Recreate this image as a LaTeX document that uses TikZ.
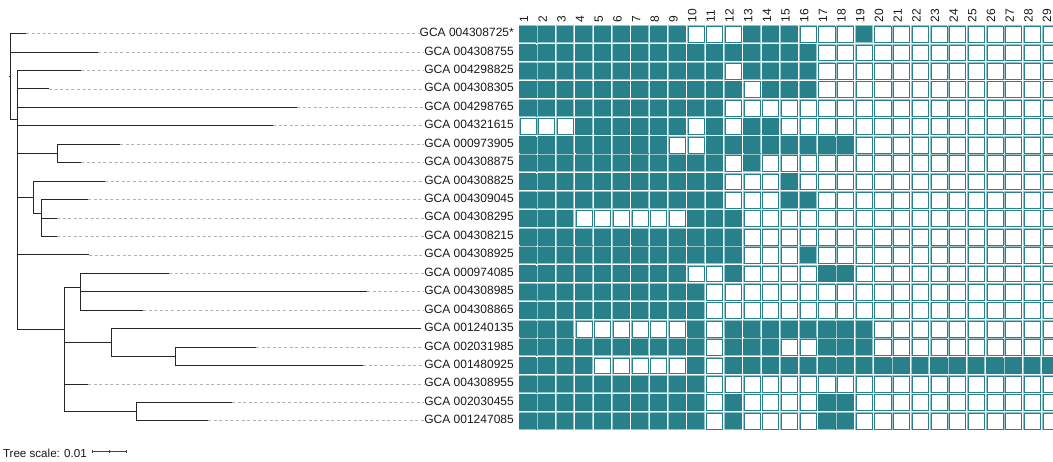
\documentclass[tikz,border=0pt]{standalone}
\usepackage{fontspec}
\setmainfont{Liberation Sans}
\definecolor{tealc}{RGB}{40,129,138}
\definecolor{teall}{RGB}{150,196,201}
\begin{document}
\begin{tikzpicture}[x=1pt,y=-1pt,
  branch/.style={line width=0.9pt, draw=black!85},
  leader/.style={draw=black!30, dash pattern=on 3pt off 2.6pt, line width=0.7pt},
  lab/.style={anchor=base east, inner sep=0pt, font=\fontsize{12}{14}\selectfont, text=black!90},
  num/.style={anchor=west, rotate=90, inner sep=0pt, font=\fontsize{12}{14}\selectfont, text=black!90},
  scl/.style={anchor=base west, inner sep=0pt, font=\fontsize{11.6}{14}\selectfont, text=black!90},
  sbar/.style={line width=0.8pt, draw=black!75}]
\clip (0,0) rectangle (1053,462);
\fill[white] (0,0) rectangle (1053,462);

% ---------- grid ----------
\foreach \r in {1,...,22}{
  \foreach \c in {1,...,29}{
    \pgfmathsetmacro\xa{518.3+(\c-1)*18.68}
    \pgfmathsetmacro\ya{25+(\r-1)*18.41}
    \fill[teall] (\xa+0.5,\ya+0.5) rectangle (\xa+18.18,\ya+17.91);
    \fill[white] (\xa+1.8,\ya+1.8) rectangle (\xa+17.5,\ya+17.2);
    \draw[tealc, line width=0.7pt] (\xa+1.6,\ya+1.6) rectangle (\xa+17.7,\ya+17.4);
  }
}
\foreach \r/\cols in {
  1/{1,...,9,13,14,15,19},
  2/{1,...,16},
  3/{1,...,11,13,14,15,16},
  4/{1,...,12,14,15,16},
  5/{1,...,11},
  6/{4,...,9,11,13,14},
  7/{1,...,8,11,12,...,18},
  8/{1,...,11,13},
  9/{1,...,11,15},
  10/{1,...,11,15,16},
  11/{1,2,3,10,11,12},
  12/{1,...,12},
  13/{1,...,12,16},
  14/{1,...,9,12,17,18},
  15/{1,...,10},
  16/{1,...,10},
  17/{1,2,3,10,12,13,...,19},
  18/{1,...,10,12,13,14,17,18,19},
  19/{1,2,3,4,10,12,13,...,29},
  20/{1,...,10},
  21/{1,...,10,12,17,18},
  22/{1,...,10,12,17,18}}{
  \foreach \c in \cols{
    \pgfmathsetmacro\xa{518.3+(\c-1)*18.68}
    \pgfmathsetmacro\ya{25+(\r-1)*18.41}
    \fill[teall] (\xa+0.5,\ya+0.5) rectangle (\xa+18.18,\ya+17.91);
    \fill[tealc] (\xa+1,\ya+1) rectangle (\xa+17.8,\ya+17.5);
  }
}

% ---------- column numbers ----------
\foreach \c in {1,...,29}{
  \node[num] (h\c) at ({518.3+(\c-0.5)*18.68-3.6},22.6) {\c};
}

% ---------- leaves and labels ----------
\foreach \i/\tx/\nm in {
  1/26/GCA 004308725*, 2/98/GCA 004308755, 3/81/GCA 004298825,
  4/49/GCA 004308305, 5/297/GCA 004298765, 6/273/GCA 004321615,
  7/120/GCA 000973905, 8/81/GCA 004308875, 9/105/GCA 004308825,
  10/88/GCA 004309045, 11/57/GCA 004308295, 12/57/GCA 004308215,
  13/89/GCA 004308925, 14/169/GCA 000974085, 15/367/GCA 004308985,
  16/143/GCA 004308865, 17/421/GCA 001240135, 18/256/GCA 002031985,
  19/363/GCA 001480925, 20/88/GCA 004308955, 21/232/GCA 002030455,
  22/208/GCA 001247085}{
  \pgfmathsetmacro\yy{33.6+18.44*(\i-1)}
  \coordinate (t\i) at (\tx,\yy);
  \node[lab] (l\i) at (514,\yy+3) {\nm};
}

% leader lines
\foreach \i in {1,...,16,18,19,20,21,22}{
  \draw[leader] (t\i) -- (t\i -| l\i.west);
}

% ---------- internal nodes ----------
\coordinate (root) at (10,76.5);
\coordinate (rstub) at (8.6,76.5);
\coordinate (nA) at (17.5,119);
\path (t7) -- coordinate[pos=0.5] (m78) (t8);
\coordinate (nB) at (57.5,0 |- m78);
\path (t11) -- coordinate[pos=0.5] (m1112) (t12);
\path (t10) -- coordinate[pos=0.5] (mD) (m1112);
\coordinate (nD) at (41,0 |- mD);
\path (t9) -- coordinate[pos=0.5] (mC) (nD);
\coordinate (nC) at (33.5,0 |- mC);
\coordinate (nK) at (64,329);
\path (t15) -- coordinate[pos=0.5] (m1516) (t16);
\path (t14) -- coordinate[pos=0.5] (mE) (m1516);
\coordinate (nE) at (80,0 |- mE);
\path (t18) -- coordinate[pos=0.5] (mG) (t19);
\coordinate (nG) at (175,0 |- mG);
\path (t17) -- coordinate[pos=0.5] (mF) (nG);
\coordinate (nF) at (111,0 |- mF);
\path (t21) -- coordinate[pos=0.5] (mH) (t22);
\coordinate (nH) at (136,0 |- mH);

% ---------- branches ----------
\draw[branch] (rstub) -- (root);
\draw[branch] (root) |- (t1);
\draw[branch] (root) |- (t2);
\draw[branch] (root) |- (nA);
\foreach \k in {t3,t4,t5,t6,nB,nC,t13,nK}{\draw[branch] (nA) |- (\k);}
\foreach \k in {t7,t8}{\draw[branch] (nB) |- (\k);}
\foreach \k in {t9,nD}{\draw[branch] (nC) |- (\k);}
\foreach \k in {t10,t11,t12}{\draw[branch] (nD) |- (\k);}
\foreach \k in {nE,nF,t20,nH}{\draw[branch] (nK) |- (\k);}
\foreach \k in {t14,t15,t16}{\draw[branch] (nE) |- (\k);}
\foreach \k in {t17,nG}{\draw[branch] (nF) |- (\k);}
\foreach \k in {t18,t19}{\draw[branch] (nG) |- (\k);}
\foreach \k in {t21,t22}{\draw[branch] (nH) |- (\k);}

% ---------- tree scale ----------
\node[scl] (ts) at (2.8,457) {Tree scale: 0.01};
\coordinate (sb1) at (92,451.8);
\coordinate (sbm) at (109.2,451.8);
\coordinate (sb2) at (126.4,451.8);
\draw[sbar] (sb1) -- (sb2);
\foreach \k in {sb1,sbm,sb2}{\draw[sbar] ([yshift=-1.6pt]\k) -- ([yshift=1.6pt]\k);}
\end{tikzpicture}
\end{document}
